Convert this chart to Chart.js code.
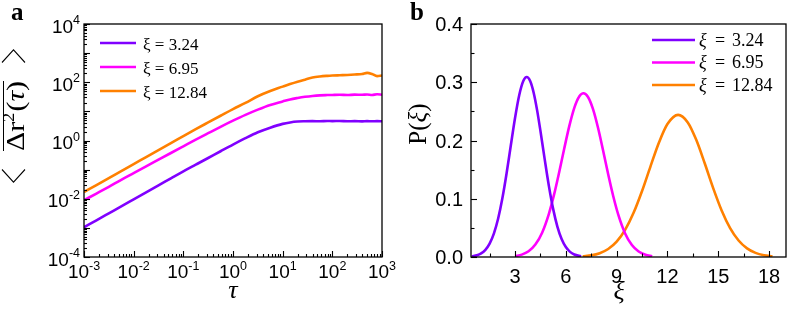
<!DOCTYPE html>
<html><head><meta charset="utf-8">
<script src="https://cdn.jsdelivr.net/npm/chart.js@4"></script>
<style>
html,body{margin:0;padding:0;background:#fff;}
#wrap{position:relative;width:789px;height:313px;overflow:hidden;background:#fff;}
canvas{position:absolute;top:0;}
</style></head><body>
<div id="wrap">
<canvas id="ca" width="400" height="313" style="left:0;width:400px;height:313px"></canvas>
<canvas id="cb" width="389" height="313" style="left:400px;width:389px;height:313px"></canvas>
</div>
<script>
// ---------- Panel a: mean squared displacement vs lag time ----------
const tau = [0.001, 0.00178, 0.00316, 0.00562, 0.01, 0.0178, 0.0316, 0.0562, 0.1, 0.178, 0.316, 0.562,
  1, 1.78, 3.16, 5.62, 10, 14.1, 20, 28.2, 39.8, 56.2, 79.4, 100, 141, 200, 282, 398, 501, 631, 794, 1000];
const msdXi324 = [0.00105, 0.00182, 0.00316, 0.0055, 0.00955, 0.0166, 0.0288, 0.0501, 0.0871, 0.148, 0.251, 0.427,
  0.724, 1.20, 1.91, 2.75, 3.72, 4.17, 4.47, 4.57, 4.62, 4.57, 4.68, 4.62, 4.68, 4.57, 4.62, 4.52, 4.62, 4.57, 4.62, 4.57];
const msdXi695 = [0.0089, 0.0151, 0.0257, 0.0447, 0.0759, 0.129, 0.219, 0.372, 0.631, 1.07, 1.78, 2.95,
  4.79, 7.59, 11.5, 16.6, 21.9, 25.7, 28.8, 31.6, 33.9, 35.5, 36.3, 36.7, 37.2, 36.3, 37.6, 37.2, 38.0, 36.7, 38.5, 37.2];
const msdXi1284 = [0.0170, 0.0295, 0.0513, 0.0891, 0.155, 0.269, 0.468, 0.813, 1.41, 2.45, 4.17, 7.08,
  12.0, 19.5, 33.1, 50.1, 70.8, 87.1, 105, 123, 145, 158, 166, 170, 174, 178, 184, 192, 210, 192, 162, 170];
const tauTickExponents = [-3, -2, -1, 0, 1, 2, 3];
const msdTickExponents = [-4, -2, 0, 2, 4];

// ---------- Panel b: distributions P(xi) ----------
const xiA = [0.45, 0.75, 1.0, 1.25, 1.5, 1.75, 2.0, 2.25, 2.5, 2.75, 3.0, 3.25, 3.5, 3.69, 3.9, 4.1, 4.3, 4.5, 4.75, 5.0, 5.25, 5.5, 5.75, 6.0, 6.25, 6.5, 6.9];
const pA  = [0.00104, 0.00284, 0.0061, 0.0122, 0.0229, 0.0401, 0.0656, 0.1003, 0.1433, 0.1914, 0.2387, 0.2782, 0.3030, 0.309, 0.3017, 0.2821, 0.2526, 0.2165, 0.168, 0.1217, 0.0826, 0.0522, 0.0309, 0.0171, 0.0088, 0.00426, 0.00115];
const xiB = [3.0, 3.4, 3.8, 4.2, 4.6, 5.0, 5.3, 5.6, 5.9, 6.2, 6.5, 6.8, 7.04, 7.3, 7.6, 7.9, 8.2, 8.5, 8.8, 9.1, 9.5, 9.9, 10.3, 10.7, 11.1];
const pB  = [0.00151, 0.00405, 0.00977, 0.0213, 0.0418, 0.0742, 0.1066, 0.1447, 0.1854, 0.2242, 0.256, 0.2759, 0.281, 0.275, 0.2542, 0.2218, 0.1827, 0.1421, 0.1043, 0.0723, 0.0405, 0.0205, 0.00937, 0.00386, 0.00144];
const xiC = [7.0, 7.5, 8.0, 8.5, 9.0, 9.5, 10.0, 10.5, 11.0, 11.5, 12.0, 12.63, 13.2, 13.7, 14.2, 14.7, 15.2, 15.7, 16.2, 16.7, 17.2, 17.7, 18.2];
const pC  = [0.00115, 0.00286, 0.00651, 0.01366, 0.0263, 0.0466, 0.0758, 0.1133, 0.1557, 0.1966, 0.2282, 0.244, 0.231, 0.2011, 0.1609, 0.1183, 0.0799, 0.0496, 0.0283, 0.01484, 0.00715, 0.00317, 0.00129];
const pTicks = [0.0, 0.1, 0.2, 0.3, 0.4];
const xiTicks = [3, 6, 9, 12, 15, 18];

const seriesNames = ['3.24', '6.95', '12.84'];
const seriesColors = ['#8000ff', '#ff00ff', '#ff8000'];

const SANS = '"Liberation Sans", Arial, sans-serif';
const SERIF = '"Liberation Serif", "Times New Roman", serif';

function pts(xs, ys) { return xs.map((x, i) => ({ x: x, y: ys[i] })); }

function drawPow(ctx, exp, x, y, align) {
  const base = '10', sup = exp < 0 ? '-' + Math.abs(exp) : String(exp);
  ctx.font = '19px ' + SANS;
  const wb = ctx.measureText(base).width;
  ctx.font = '12.5px ' + SANS;
  const ws = ctx.measureText(sup).width;
  const tot = wb + ws;
  const x0 = align === 'center' ? x - tot / 2 : x - tot;
  ctx.textAlign = 'left';
  ctx.textBaseline = 'alphabetic';
  ctx.font = '19px ' + SANS;
  ctx.fillText(base, x0, y);
  ctx.font = '12.5px ' + SANS;
  ctx.fillText(sup, x0 + wb, y - 8.5);
}

function frame(ctx, a) {
  ctx.save();
  ctx.strokeStyle = '#000';
  ctx.lineWidth = 1.3;
  ctx.strokeRect(a.left, a.top, a.right - a.left, a.bottom - a.top);
  ctx.restore();
}

// ---------- Chart a ----------
const decorA = {
  id: 'decorA',
  afterDraw(chart) {
    const ctx = chart.ctx, a = chart.chartArea;
    const xs = chart.scales.x, ys = chart.scales.y;
    ctx.save();
    ctx.strokeStyle = '#000'; ctx.fillStyle = '#000'; ctx.lineWidth = 1.1;
    for (let d = -4; d <= 4; d++) {
      const py = Math.round(ys.getPixelForValue(Math.pow(10, d))) + 0.5;
      ctx.beginPath(); ctx.moveTo(a.left, py); ctx.lineTo(a.left + 6, py); ctx.stroke();
      if (d < 4) for (let m = 2; m <= 9; m++) {
        const p = Math.round(ys.getPixelForValue(m * Math.pow(10, d))) + 0.5;
        ctx.beginPath(); ctx.moveTo(a.left, p); ctx.lineTo(a.left + 3, p); ctx.stroke();
      }
    }
    for (let d = -3; d <= 3; d++) {
      const px = Math.round(xs.getPixelForValue(Math.pow(10, d))) + 0.5;
      ctx.beginPath(); ctx.moveTo(px, a.bottom); ctx.lineTo(px, a.bottom - 6); ctx.stroke();
      if (d < 3) for (let m = 2; m <= 9; m++) {
        const p = Math.round(xs.getPixelForValue(m * Math.pow(10, d))) + 0.5;
        ctx.beginPath(); ctx.moveTo(p, a.bottom); ctx.lineTo(p, a.bottom - 3); ctx.stroke();
      }
    }
    frame(ctx, a);
    msdTickExponents.forEach(e => drawPow(ctx, e, a.left - 4, ys.getPixelForValue(Math.pow(10, e)) + 8.5, 'right'));
    tauTickExponents.forEach(e => drawPow(ctx, e, xs.getPixelForValue(Math.pow(10, e)), 278, 'center'));
    // x title
    ctx.font = 'italic 26px ' + SERIF; ctx.textAlign = 'center'; ctx.textBaseline = 'alphabetic';
    ctx.fillText('τ', (a.left + a.right) / 2, 298);
    // y title  < overline(Δr²(τ)) >
    ctx.save();
    ctx.translate(15, 116); ctx.rotate(-Math.PI / 2);
    ctx.scale(1.15, 1);
    ctx.textBaseline = 'alphabetic'; ctx.textAlign = 'left';
    const f1 = '26px ' + SERIF, f2 = '16px ' + SERIF, f3 = 'italic 26px ' + SERIF;
    ctx.font = f1; const wD = ctx.measureText('Δr').width, wP = ctx.measureText('(').width, wQ = ctx.measureText(')').width;
    ctx.font = f2; const w2 = ctx.measureText('2').width;
    ctx.font = f3; const wt = ctx.measureText('τ').width;
    const inner = wD + w2 + 1 + wP + wt + wQ;
    const gap = 16, bw = 11;
    const total = bw + gap + inner + gap + bw;
    let u = -total / 2;
    const vb = 9;
    ctx.lineWidth = 1.1;
    ctx.beginPath(); ctx.moveTo(u + bw, -13); ctx.lineTo(u, -1.5); ctx.lineTo(u + bw, 10); ctx.stroke();
    u += bw + gap;
    const us = u;
    ctx.font = f1; ctx.fillText('Δr', u, vb); u += wD;
    ctx.font = f2; ctx.fillText('2', u, vb - 10); u += w2 + 1;
    ctx.font = f1; ctx.fillText('(', u, vb); u += wP;
    ctx.font = f3; ctx.fillText('τ', u, vb); u += wt;
    ctx.font = f1; ctx.fillText(')', u, vb); u += wQ;
    ctx.lineWidth = 1;
    ctx.beginPath(); ctx.moveTo(us, -11.5); ctx.lineTo(u, -11.5); ctx.stroke();
    u += gap;
    ctx.lineWidth = 1.1;
    ctx.beginPath(); ctx.moveTo(u, -13); ctx.lineTo(u + bw, -1.5); ctx.lineTo(u, 10); ctx.stroke();
    ctx.restore();
    // legend
    ctx.lineWidth = 2.6;
    chart.data.datasets.forEach((ds, i) => {
      const y = 43 + i * 24;
      ctx.strokeStyle = ds.borderColor;
      ctx.beginPath(); ctx.moveTo(100, y); ctx.lineTo(136, y); ctx.stroke();
      ctx.fillStyle = '#000'; ctx.font = '17px ' + SERIF; ctx.textAlign = 'left'; ctx.textBaseline = 'alphabetic';
      ctx.fillText(ds.label, 143, y + 6.5);
    });
    ctx.fillStyle = '#000'; ctx.font = 'bold 25px ' + SERIF; ctx.textAlign = 'left';
    ctx.fillText('a', 11, 20);
    ctx.restore();
  }
};

new Chart(document.getElementById('ca'), {
  type: 'line',
  data: {
    datasets: [
      { label: 'ξ = ' + seriesNames[0], data: pts(tau, msdXi324), borderColor: seriesColors[0] },
      { label: 'ξ = ' + seriesNames[1], data: pts(tau, msdXi695), borderColor: seriesColors[1] },
      { label: 'ξ = ' + seriesNames[2], data: pts(tau, msdXi1284), borderColor: seriesColors[2] }
    ]
  },
  options: {
    responsive: false, animation: false, devicePixelRatio: 1,
    layout: { padding: { left: 84, right: 18, top: 24, bottom: 56 } },
    elements: { point: { radius: 0 }, line: { borderWidth: 2.6, cubicInterpolationMode: 'monotone' } },
    plugins: { legend: { display: false }, tooltip: { enabled: false } },
    scales: {
      x: { type: 'logarithmic', min: 0.001, max: 1000, display: false },
      y: { type: 'logarithmic', min: 0.0001, max: 10000, display: false }
    }
  },
  plugins: [decorA]
});

// ---------- Chart b ----------
const decorB = {
  id: 'decorB',
  afterDraw(chart) {
    const ctx = chart.ctx, a = chart.chartArea;
    const xs = chart.scales.x, ys = chart.scales.y;
    ctx.save();
    ctx.strokeStyle = '#000'; ctx.fillStyle = '#000'; ctx.lineWidth = 1.1;
    for (let v = 0; v <= 0.4001; v += 0.05) {
      const major = Math.abs(v * 10 - Math.round(v * 10)) < 1e-6;
      const py = Math.round(ys.getPixelForValue(v)) + 0.5;
      ctx.beginPath(); ctx.moveTo(a.left, py); ctx.lineTo(a.left + (major ? 6 : 3.5), py); ctx.stroke();
    }
    for (let v = 1.5; v <= 19; v += 1.5) {
      const major = Math.abs(v / 3 - Math.round(v / 3)) < 1e-6;
      const px = Math.round(xs.getPixelForValue(v)) + 0.5;
      ctx.beginPath(); ctx.moveTo(px, a.bottom); ctx.lineTo(px, a.bottom - (major ? 6 : 3.5)); ctx.stroke();
    }
    frame(ctx, a);
    ctx.font = '20px ' + SANS; ctx.textBaseline = 'alphabetic';
    ctx.textAlign = 'right';
    pTicks.forEach(v => ctx.fillText(v.toFixed(1), a.left - 8, ys.getPixelForValue(v) + 7));
    ctx.textAlign = 'center';
    xiTicks.forEach(v => ctx.fillText(String(v), xs.getPixelForValue(v), 283));
    // x title
    ctx.font = 'italic 26px ' + SERIF;
    ctx.fillText('ξ', 219, 299);
    // y title P(ξ)
    ctx.save();
    ctx.translate(26, 124); ctx.rotate(-Math.PI / 2);
    ctx.textAlign = 'left';
    ctx.font = '25px ' + SERIF; const wp = ctx.measureText('P(').width, wq = ctx.measureText(')').width;
    ctx.font = 'italic 25px ' + SERIF; const wx = ctx.measureText('ξ').width;
    let u = -(wp + wx + wq) / 2;
    ctx.font = '25px ' + SERIF; ctx.fillText('P(', u, 0); u += wp;
    ctx.font = 'italic 25px ' + SERIF; ctx.fillText('ξ', u, 0); u += wx;
    ctx.font = '25px ' + SERIF; ctx.fillText(')', u, 0);
    ctx.restore();
    // legend
    ctx.lineWidth = 2.6;
    chart.data.datasets.forEach((ds, i) => {
      const y = 40 + i * 22.5;
      ctx.strokeStyle = ds.borderColor;
      ctx.beginPath(); ctx.moveTo(252, y); ctx.lineTo(295, y); ctx.stroke();
      ctx.fillStyle = '#000'; ctx.textAlign = 'left';
      ctx.font = 'italic 18px ' + SERIF; ctx.fillText('ξ', 299, y + 5.5);
      ctx.font = '18px ' + SERIF; ctx.textAlign = 'center'; ctx.fillText('=', 320, y + 5.5);
      ctx.textAlign = 'left'; ctx.fillText(seriesNames[i], 332, y + 5.5);
    });
    ctx.fillStyle = '#000'; ctx.font = 'bold 25px ' + SERIF; ctx.textAlign = 'left';
    ctx.fillText('b', 10, 20);
    ctx.restore();
  }
};

new Chart(document.getElementById('cb'), {
  type: 'line',
  data: {
    datasets: [
      { label: 'ξ = ' + seriesNames[0], data: pts(xiA, pA), borderColor: seriesColors[0] },
      { label: 'ξ = ' + seriesNames[1], data: pts(xiB, pB), borderColor: seriesColors[1] },
      { label: 'ξ = ' + seriesNames[2], data: pts(xiC, pC), borderColor: seriesColors[2] }
    ]
  },
  options: {
    responsive: false, animation: false, devicePixelRatio: 1,
    layout: { padding: { left: 71, right: 3, top: 24, bottom: 56 } },
    elements: { point: { radius: 0 }, line: { borderWidth: 2.6, cubicInterpolationMode: 'monotone' } },
    plugins: { legend: { display: false }, tooltip: { enabled: false } },
    scales: {
      x: { type: 'linear', min: 0.4, max: 19.0, display: false },
      y: { type: 'linear', min: 0, max: 0.4, display: false }
    }
  },
  plugins: [decorB]
});
</script>
</body></html>
